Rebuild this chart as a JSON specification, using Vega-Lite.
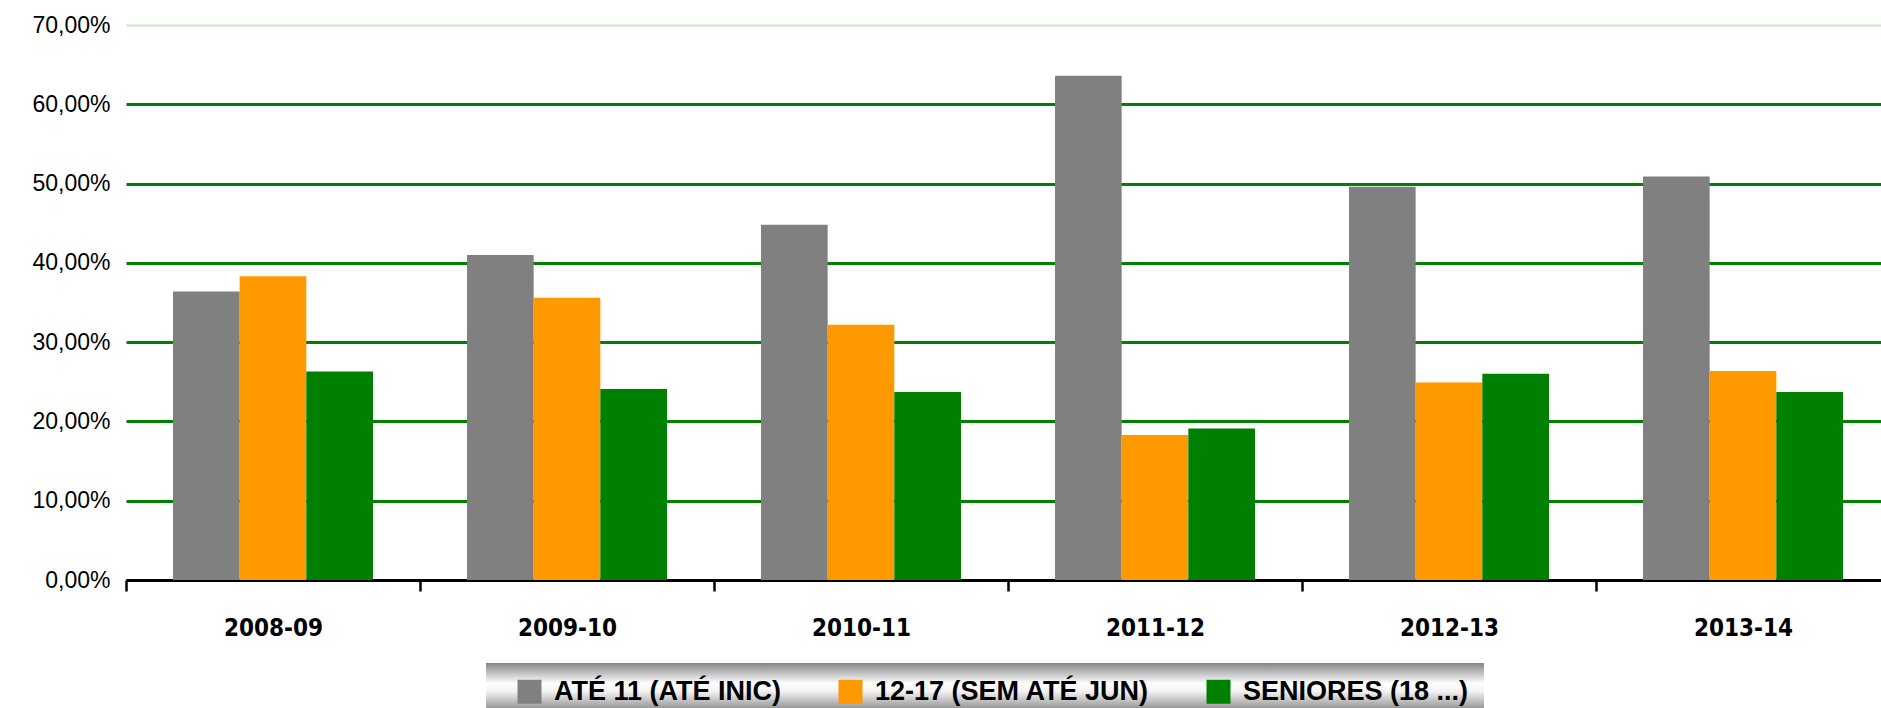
{
  "$schema": "https://vega.github.io/schema/vega-lite/v6.json",
  "width": 1755,
  "height": 555,
  "autosize": {"type": "none"},
  "padding": {"left": 126, "top": 25, "right": 0, "bottom": 128},
  "background": "white",
  "data": {
    "values": [
      {"epoca": "2008-09", "serie": "ATÉ 11 (ATÉ INIC)", "valor": 0.364},
      {"epoca": "2008-09", "serie": "12-17 (SEM ATÉ JUN)", "valor": 0.383},
      {"epoca": "2008-09", "serie": "SENIORES (18 ...)", "valor": 0.263},
      {"epoca": "2009-10", "serie": "ATÉ 11 (ATÉ INIC)", "valor": 0.410},
      {"epoca": "2009-10", "serie": "12-17 (SEM ATÉ JUN)", "valor": 0.356},
      {"epoca": "2009-10", "serie": "SENIORES (18 ...)", "valor": 0.241},
      {"epoca": "2010-11", "serie": "ATÉ 11 (ATÉ INIC)", "valor": 0.448},
      {"epoca": "2010-11", "serie": "12-17 (SEM ATÉ JUN)", "valor": 0.322},
      {"epoca": "2010-11", "serie": "SENIORES (18 ...)", "valor": 0.237},
      {"epoca": "2011-12", "serie": "ATÉ 11 (ATÉ INIC)", "valor": 0.636},
      {"epoca": "2011-12", "serie": "12-17 (SEM ATÉ JUN)", "valor": 0.183},
      {"epoca": "2011-12", "serie": "SENIORES (18 ...)", "valor": 0.191},
      {"epoca": "2012-13", "serie": "ATÉ 11 (ATÉ INIC)", "valor": 0.496},
      {"epoca": "2012-13", "serie": "12-17 (SEM ATÉ JUN)", "valor": 0.249},
      {"epoca": "2012-13", "serie": "SENIORES (18 ...)", "valor": 0.260},
      {"epoca": "2013-14", "serie": "ATÉ 11 (ATÉ INIC)", "valor": 0.509},
      {"epoca": "2013-14", "serie": "12-17 (SEM ATÉ JUN)", "valor": 0.2635},
      {"epoca": "2013-14", "serie": "SENIORES (18 ...)", "valor": 0.237}
    ]
  },
  "mark": {"type": "bar"},
  "encoding": {
    "x": {
      "field": "epoca",
      "type": "nominal",
      "scale": {"range": [0, 1764], "paddingInner": 0, "paddingOuter": 0},
      "axis": {
        "title": null,
        "labelAngle": 0,
        "labelFont": "DejaVu Sans Condensed",
        "labelFontWeight": "bold",
        "labelFontSize": 24,
        "labelColor": "#000000",
        "labelPadding": 25,
        "tickBand": "extent",
        "ticks": true,
        "tickColor": "#000000",
        "tickWidth": 2.5,
        "tickSize": 11,
        "domainColor": "#000000",
        "domainWidth": 3,
        "grid": false
      }
    },
    "xOffset": {
      "field": "serie",
      "type": "nominal",
      "scale": {"domain": ["ATÉ 11 (ATÉ INIC)", "12-17 (SEM ATÉ JUN)", "SENIORES (18 ...)"], "paddingInner": 0, "paddingOuter": 0.705}
    },
    "y": {
      "field": "valor",
      "type": "quantitative",
      "scale": {"domain": [0, 0.7], "nice": false},
      "axis": {
        "title": null,
        "values": [0, 0.1, 0.2, 0.3, 0.4, 0.5, 0.6, 0.7],
        "labelExpr": "replace(format(datum.value, '.2%'), '.', ',')",
        "labelFont": "Liberation Sans",
        "labelFontSize": 23,
        "labelColor": "#000000",
        "labelPadding": 16,
        "ticks": false,
        "tickSize": 0,
        "domain": false,
        "grid": true,
        "gridColor": {"condition": {"test": "datum.value > 0.65", "value": "#c5e2c5"}, "value": "#007f00"},
        "gridWidth": {"condition": {"test": "datum.value > 0.65", "value": 2}, "value": 3},
        "gridOpacity": 1
      }
    },
    "color": {
      "field": "serie",
      "type": "nominal",
      "scale": {
        "domain": ["ATÉ 11 (ATÉ INIC)", "12-17 (SEM ATÉ JUN)", "SENIORES (18 ...)"],
        "range": ["#808080", "#ff9900", "#008000"]
      },
      "legend": {
        "title": null,
        "orient": "none",
        "legendX": 360,
        "legendY": 638,
        "direction": "horizontal",
        "columns": 3,
        "padding": 15,
        "symbolOffset": 15,
        "symbolType": "square",
        "symbolSize": 576,
        "symbolStrokeWidth": 0,
        "symbolOpacity": 1,
        "labelFont": "Liberation Sans",
        "labelFontWeight": "bold",
        "labelFontSize": 27,
        "labelColor": "#000000",
        "labelOffset": 11,
        "labelLimit": 500,
        "columnPadding": 40,
        "fillColor": {"expr": "{gradient: 'linear', x1: 0, y1: 0, x2: 0, y2: 1, stops: [{offset: 0, color: '#858585'}, {offset: 0.36, color: '#ffffff'}, {offset: 0.5, color: '#f2f2f2'}, {offset: 0.78, color: '#9c9c9c'}, {offset: 1, color: '#8a8a8a'}]}"},
        "strokeColor": null
      }
    }
  },
  "config": {
    "view": {"stroke": null}
  }
}
